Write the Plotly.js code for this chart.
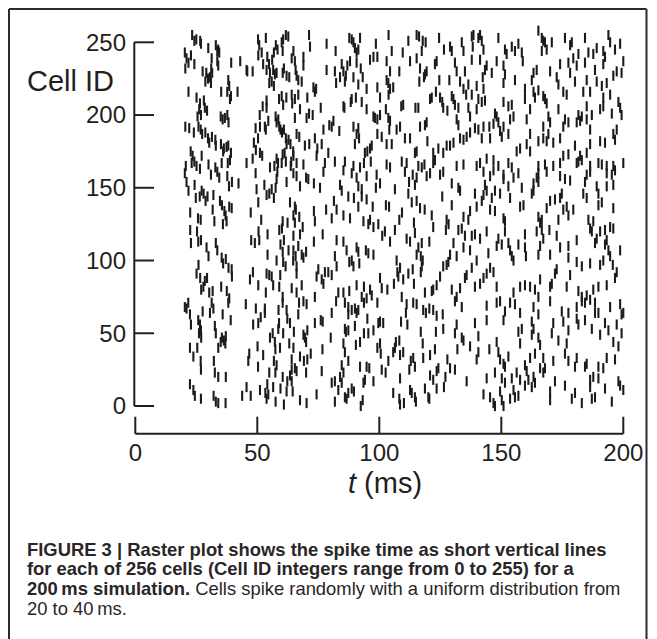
<!DOCTYPE html>
<html><head><meta charset="utf-8">
<script src="https://cdn.plot.ly/plotly-3.0.1.min.js"></script>
<style>html,body{margin:0;padding:0;background:#fff;}#chart{width:657px;height:639px;}</style>
</head><body><div id="chart"></div>
<script>
const xTicks = [0, 50, 100, 150, 200];
const yTicks = [0, 50, 100, 150, 200, 250];
const xTitle = '<i>t</i> (ms)';
const yTitle = 'Cell ID';
const captionLines = [
  '<b>FIGURE 3 | Raster plot shows the spike time as short vertical lines</b>',
  '<b>for each of 256 cells (Cell ID integers range from 0 to 255) for a</b>',
  '<b>200\u2009ms simulation.</b> Cells spike randomly with a uniform distribution from',
  '20 to 40\u2009ms.'
];

// [spike time (ms), cell ID]
const spikes0to67ms = [
[23.3,255],[24.2,251],[25.0,252],[26.6,251],[26.9,249],[20.3,243],[21.0,239],[21.8,236],[20.5,232],[22.8,241],[24.2,235],[29.9,246],[31.3,239],[33.0,248],[33.6,244],[34.0,245],[34.4,243],[31.1,232],[31.5,229],[30.6,226],[29.1,229],[27.6,230],[28.7,223],[29.8,225],[31.0,222],[33.6,237],[34.0,234],[21.8,216],[25.1,212],[26.5,208],[28.1,210],[28.5,205],[26.2,204],[26.9,200],[29.4,203],[25.5,199],[38.1,224],[38.5,220],[37.7,216],[39.2,213],[38.8,211],[35.2,216],[35.0,199],[35.8,197],[36.7,198],[37.7,200],[38.2,195],[41.9,216],[39.3,236],[43.0,237],[45.6,231],[48.1,230],[20.5,192],[22.1,191],[24.0,188],[25.9,192],[26.8,190],[27.4,187],[28.7,188],[29.8,184],[31.4,185],[30.3,181],[32.8,183],[33.0,179],[35.1,180],[36.3,177],[37.4,178],[38.1,179],[39.2,174],[36.0,175],[38.8,169],[35.4,167],[37.9,167],[22.7,175],[23.5,172],[27.2,172],[20.7,165],
[50.3,252],[50.8,248],[53.5,253],[57.6,248],[58.3,245],[60.0,250],[60.6,252],[61.7,255],[62.7,254],[64.1,239],[56.8,243],[56.1,238],[54.8,235],[54.1,240],[52.4,235],[51.8,243],[50.4,241],[53.8,231],[55.2,229],[56.5,231],[57.2,228],[57.9,229],[55.9,223],[54.9,222],[56.8,220],[60.9,232],[60.4,229],[62.0,227],[63.1,226],[65.7,231],[60.0,213],[58.9,211],[60.6,207],[61.9,212],[53.8,210],[52.2,206],[51.0,200],[54.5,196],[53.5,190],[53.1,192],[51.1,192],[49.3,191],[50.3,184],[48.6,181],[49.4,176],[51.1,174],[52.0,172],[53.8,205],[57.5,199],[58.6,197],[57.9,195],[59.0,192],[59.5,190],[60.1,188],[60.9,190],[61.7,184],[62.0,180],[62.8,183],[63.6,180],[64.7,175],[63.9,168],[61.2,174],[60.4,173],[57.9,170],[58.5,167],[57.0,165],[55.2,164],[48.1,170],[45.6,167],[45.9,230],[64.3,208],[60.4,244],
[20.3,160],[21.0,154],[21.8,148],[23.1,167],[24.2,168],[25.1,165],[26.5,163],[30.0,166],[31.0,159],[32.8,164],[33.6,161],[34.4,157],[37.7,158],[38.4,151],[39.6,154],[42.3,153],[24.3,152],[24.8,143],[26.4,144],[27.2,148],[28.0,146],[28.8,141],[29.6,144],[32.0,145],[31.7,135],[34.7,141],[35.5,138],[36.5,134],[37.0,131],[38.5,137],[39.5,136],[35.9,125],[37.4,127],[22.5,133],[25.7,129],[26.8,128],[32.4,127],[22.5,121],[22.8,112],[25.3,120],[25.8,113],[26.9,114],[29.2,109],[30.0,103],[33.0,112],[33.6,107],[35.4,102],[36.0,98],[37.1,101],[38.2,95],[39.5,94],[39.6,89],[25.9,97],[25.1,91],[26.6,88],[28.5,86],[29.4,88],[27.9,82],[27.0,80],[30.3,78],[31.7,79],[35.2,82],[37.5,79],[38.5,74],[32.0,67],
[47.3,133],[49.3,160],[49.7,149],[50.4,140],[51.6,128],[50.5,120],[47.5,114],[49.0,112],[50.8,114],[54.2,118],[52.9,152],[53.8,145],[54.9,146],[55.9,149],[56.8,143],[57.5,150],[58.2,161],[57.9,156],[60.0,167],[61.7,168],[62.0,154],[60.4,127],[60.1,122],[59.0,121],[60.9,114],[59.5,111],[60.4,106],[63.4,140],[65.8,135],[62.4,126],[66.8,110],[65.7,103],[62.8,107],[64.7,100],[54.2,104],[57.9,100],[60.6,99],[61.6,96],[59.4,90],[54.9,90],[53.8,91],[48.2,92],[47.0,87],[50.4,83],[53.5,78],[55.9,89],[56.5,83],[59.0,82],[60.4,75],[53.1,67],[66.1,167],
[20.3,68],[21.0,67],[21.7,71],[22.4,63],[22.8,56],[25.8,59],[26.5,56],[26.9,52],[26.1,50],[27.0,47],[27.6,65],[30.6,64],[31.3,71],[32.6,55],[33.0,50],[35.8,63],[35.5,47],[36.3,45],[37.1,48],[39.1,59],[38.1,71],[22.4,40],[23.8,34],[25.4,40],[26.8,31],[26.9,25],[32.2,31],[32.6,23],[34.0,40],[34.0,20],[35.0,44],[36.9,43],[37.1,20],[22.4,15],[23.8,11],[24.4,7],[26.9,5],[32.1,7],[33.0,3],[34.0,2],[37.0,2],
[45.3,70],[49.4,67],[50.4,57],[51.4,61],[53.1,64],[48.3,56],[50.1,41],[46.7,36],[46.3,31],[50.3,27],[52.4,35],[55.2,47],[56.3,50],[57.2,44],[58.6,53],[58.7,66],[58.9,57],[60.6,50],[60.4,71],[62.0,66],[63.4,57],[62.3,60],[57.4,39],[59.3,40],[63.1,43],[56.8,31],[57.9,28],[57.4,23],[64.1,17],[62.3,17],[60.4,20],[62.0,10],[59.5,12],[54.9,23],[54.1,15],[56.5,13],[54.5,8],[53.8,5],[53.3,9],[51.1,11],[47.3,7],[45.6,13],[43.8,7],[57.5,3],[60.9,1],[67.5,34]
];

const spikes63to133ms = [
[71.2,255],[71.6,247],[64.8,244],[65.4,237],[68.9,240],[68.9,234],[66.1,227],[66.8,224],[68.2,223],[64.1,214],[65.4,211],[66.8,214],[70.5,212],[73.0,219],[73.6,216],[67.5,204],[71.2,201],[72.7,200],[70.2,198],[65.4,198],[78.4,249],[82.1,244],[78.4,231],[81.8,230],[82.3,222],[84.6,235],[85.3,230],[86.3,227],[83.9,226],[85.9,223],[87.7,253],[88.7,252],[89.4,250],[90.0,246],[90.7,243],[92.1,253],[91.4,245],[88.0,237],[86.9,234],[90.7,236],[92.4,232],[93.2,226],[89.4,226],[91.4,221],[94.8,218],[96.2,238],[97.6,240],[98.6,249],[99.2,240],[103.0,237],[104.4,230],[105.1,244],[103.8,255],[108.2,230],[109.6,243],[111.9,251],[112.6,237],[115.3,255],[116.3,254],[117.8,251],[119.0,250],[117.4,244],[115.3,239],[116.7,232],[118.3,226],[118.7,228],[116.4,223],[119.4,230],[123.5,237],[122.8,235],[124.5,253],[126.5,245],[128.7,224],[124.6,224],[123.2,216],[121.5,212],[124.9,212],[125.8,209],[126.2,205],[127.9,203],[120.8,211],[116.0,205],[114.8,205],[109.8,207],[109.0,206],[103.0,224],[103.7,222],[104.4,218],[105.7,219],[103.8,214],[100.3,212],[99.2,219],[92.8,209],[90.4,212],[88.7,211],[88.3,209],[85.3,206],[85.7,205],[76.0,205],[74.1,218],[94.8,204],[97.6,199],[98.2,198],[99.2,197],[100.3,200],[102.7,204],[103.7,198],[104.4,196],[66.1,187],[67.2,185],[69.5,179],[71.3,180],[73.6,184],[74.6,177],[76.4,180],[77.1,190],[79.5,193],[81.2,196],[80.5,192],[83.6,189],[89.4,192],[91.4,191],[90.7,187],[91.7,184],[90.0,180],[94.1,174],[95.1,175],[96.2,177],[96.9,179],[99.2,187],[101.0,185],[103.0,180],[104.1,190],[105.1,180],[107.1,190],[108.5,192],[110.5,184],[112.6,184],[114.6,174],[115.3,175],[116.7,192],[118.7,193],[119.4,195],[119.7,182],[122.1,174],[122.8,169],[124.2,177],[126.2,174],[127.6,179],[64.8,172],[74.3,172],[79.1,174],[89.4,165],[116.0,165],[131.7,165],
[63.7,165],[64.8,160],[68.9,166],[70.0,157],[66.1,158],[67.5,151],[70.9,156],[73.2,153],[75.7,150],[77.1,161],[77.7,167],[81.8,168],[85.3,162],[83.9,152],[84.6,148],[85.9,168],[88.7,160],[90.7,157],[92.1,164],[92.8,149],[91.4,151],[93.7,167],[94.8,158],[96.5,168],[98.9,159],[100.3,153],[98.6,150],[103.0,166],[104.4,164],[109.2,168],[110.5,161],[111.2,167],[112.2,154],[113.7,159],[115.3,157],[114.6,152],[117.4,164],[118.5,166],[119.4,158],[120.8,160],[122.1,167],[124.9,159],[126.2,161],[125.8,144],[65.4,137],[64.8,131],[67.2,130],[68.6,123],[65.4,126],[64.8,117],[67.5,118],[73.2,134],[73.6,127],[73.2,113],[76.8,118],[78.2,135],[80.5,129],[82.5,135],[81.4,141],[85.3,131],[87.3,144],[88.0,129],[89.6,143],[91.4,137],[92.8,144],[94.8,142],[93.5,127],[95.5,125],[97.3,137],[96.2,128],[97.6,123],[99.6,125],[101.2,117],[102.7,138],[104.0,137],[102.3,120],[104.4,113],[106.4,121],[106.4,149],[108.2,128],[109.3,133],[111.2,115],[112.6,113],[111.9,146],[113.3,140],[114.2,126],[115.3,141],[114.6,119],[116.7,136],[118.6,135],[116.0,109],[117.4,112],[120.5,113],[122.1,123],[121.5,131],[127.6,128],[128.4,125],[127.3,121],[64.8,107],[66.1,96],[68.2,104],[68.9,102],[70.0,106],[75.0,94],[74.3,89],[76.4,87],[77.7,92],[81.8,103],[82.5,114],[85.3,113],[86.6,107],[87.7,99],[88.7,100],[89.4,96],[90.7,109],[91.4,106],[91.8,98],[94.5,107],[95.5,105],[97.6,104],[82.5,96],[80.5,90],[79.1,92],[66.1,91],[64.1,81],[68.2,83],[66.1,78],[73.6,75],[77.1,84],[83.2,78],[85.3,78],[87.7,79],[90.7,83],[92.8,75],[93.7,82],[94.8,74],[96.2,80],[96.9,76],[100.3,88],[101.0,81],[103.3,80],[107.1,100],[107.4,92],[108.5,95],[109.8,87],[107.8,89],[111.9,91],[113.7,94],[114.2,84],[117.0,92],[117.4,96],[117.8,100],[115.3,104],[117.0,103],[118.7,78],[121.5,79],[122.1,80],[123.5,83],[124.9,89],[126.2,96],[127.6,97],[128.3,99],[109.2,75],[111.2,70],[106.0,84],
[67.1,71],[68.9,72],[70.2,70],[66.8,63],[65.0,51],[68.9,49],[69.5,47],[70.0,44],[70.5,52],[71.9,36],[64.8,40],[64.1,32],[65.4,26],[64.1,25],[66.1,24],[64.5,10],[69.1,31],[70.5,32],[70.0,23],[76.4,24],[76.7,39],[73.6,57],[76.0,59],[76.8,58],[80.5,64],[80.1,47],[82.3,72],[85.9,71],[87.3,68],[87.3,63],[88.7,66],[90.0,67],[90.7,64],[91.4,66],[93.7,71],[95.1,60],[99.2,71],[99.6,57],[100.3,58],[101.6,57],[85.9,53],[86.3,51],[87.3,52],[90.0,55],[85.3,43],[85.9,37],[87.3,31],[90.4,42],[92.1,44],[93.7,50],[95.5,50],[97.6,52],[100.3,43],[99.2,40],[100.6,36],[103.7,31],[105.7,37],[106.8,44],[108.2,45],[108.9,58],[110.9,64],[111.5,56],[113.9,71],[115.3,70],[118.0,66],[119.1,64],[120.5,67],[122.1,66],[123.5,62],[126.0,63],[126.2,53],[123.2,51],[117.0,51],[117.8,43],[122.8,39],[120.8,35],[118.0,33],[113.9,33],[114.6,27],[112.9,31],[112.3,25],[109.8,37],[108.5,35],[106.4,40],[112.6,11],[113.3,9],[114.6,6],[115.0,3],[118.7,12],[120.1,6],[120.5,5],[120.8,21],[122.1,18],[123.5,24],[124.2,26],[123.5,12],[126.5,13],[127.1,20],[127.9,32],[132.0,39],[84.6,28],[85.3,23],[83.9,20],[84.6,16],[83.2,11],[81.8,17],[80.5,16],[81.8,3],[85.9,6],[86.6,5],[87.3,9],[88.7,12],[89.6,10],[92.4,0],[93.2,4],[93.5,16],[94.1,18],[94.8,27],[95.9,26],[92.1,27],[97.6,17],[101.0,25],[102.6,23],[105.7,9],[108.2,5],[108.5,19],[110.1,2],[108.5,1],[74.3,8],[70.2,2],[67.5,4],[63.4,21]
];

const spikes129to200ms = [
[129.0,247],[129.7,244],[131.0,236],[131.7,230],[133.8,250],[134.5,244],[135.1,230],[133.1,223],[134.5,218],[135.6,214],[136.5,221],[137.9,254],[138.6,255],[138.3,247],[137.9,238],[140.6,253],[141.3,255],[142.0,251],[142.7,245],[141.3,238],[143.3,231],[144.0,234],[146.1,229],[139.9,220],[142.4,226],[142.7,218],[137.9,214],[140.6,211],[129.7,213],[130.4,211],[131.0,207],[132.4,205],[136.5,205],[137.2,199],[131.7,197],[132.4,193],[139.9,204],[142.0,209],[143.3,210],[148.8,253],[151.5,245],[152.2,242],[154.3,247],[157.0,249],[155.6,244],[158.4,243],[158.8,237],[150.9,234],[151.5,228],[148.1,237],[150.9,222],[155.6,224],[159.7,218],[162.5,224],[163.2,229],[164.5,231],[165.2,258],[166.6,253],[167.2,251],[167.9,250],[166.6,244],[168.6,245],[170.7,250],[170.0,230],[172.7,226],[174.1,235],[173.4,221],[175.4,216],[176.8,214],[176.1,253],[178.2,248],[178.9,250],[177.5,236],[179.5,239],[181.6,242],[180.9,234],[184.3,253],[185.7,243],[184.3,236],[187.7,242],[189.1,246],[191.8,244],[192.5,240],[193.9,255],[194.6,250],[196.6,245],[198.7,249],[200.0,237],[197.3,230],[195.9,227],[199.3,229],[191.8,235],[188.4,231],[189.1,223],[191.2,220],[193.2,222],[185.0,224],[186.4,216],[183.6,216],[180.2,223],[178.2,229],[163.2,216],[163.8,212],[165.2,217],[167.2,213],[168.6,208],[167.9,211],[161.8,204],[159.7,211],[154.3,207],[152.9,206],[150.9,209],[147.4,201],[148.1,199],[148.8,195],[149.5,189],[150.9,192],[153.6,197],[155.0,199],[152.9,187],[150.2,185],[146.8,194],[145.1,192],[142.7,192],[142.0,184],[140.6,190],[139.2,191],[137.2,188],[135.8,185],[134.5,183],[133.1,184],[130.4,181],[129.0,179],[145.4,184],[160.4,197],[161.8,187],[160.4,180],[157.7,177],[156.3,175],[161.8,175],[167.2,184],[169.3,187],[170.0,195],[169.3,199],[167.2,192],[165.2,182],[168.6,182],[171.3,181],[174.1,184],[175.4,192],[177.5,195],[176.1,197],[180.9,195],[182.3,196],[185.0,197],[180.2,179],[177.5,173],[175.4,172],[182.3,172],[183.0,169],[185.0,174],[186.4,180],[186.4,190],[190.5,182],[192.5,181],[195.9,187],[196.6,183],[197.3,190],[199.3,200],[198.0,209],[194.6,214],[191.8,212],[190.5,204],[191.8,206],[195.3,201],[198.7,205],[187.1,200],[185.0,206],[181.6,200],[183.0,199],[173.4,204],[144.0,170],[146.8,169],[165.2,165],[186.4,165],[193.2,165],[195.9,165],[200.0,167],
[134.5,166],[139.9,165],[141.3,167],[142.7,161],[145.4,158],[146.8,162],[148.8,165],[150.9,159],[152.9,167],[154.3,164],[155.0,157],[157.0,160],[158.4,150],[163.2,153],[164.5,157],[165.2,160],[167.9,166],[168.6,161],[171.3,165],[174.1,158],[176.1,156],[178.2,155],[174.1,167],[180.9,167],[181.6,168],[185.0,159],[184.3,154],[186.4,161],[189.8,167],[191.2,166],[193.2,160],[195.3,159],[196.6,162],[195.9,152],[193.2,151],[189.1,151],[189.8,146],[183.6,146],[185.0,143],[189.8,138],[191.2,140],[195.9,136],[129.7,153],[132.4,150],[133.1,148],[129.7,138],[134.5,130],[136.5,128],[137.2,134],[139.2,146],[139.9,137],[142.0,141],[143.3,152],[142.7,145],[144.0,148],[147.4,148],[146.1,143],[145.4,135],[147.4,134],[149.5,146],[150.9,156],[152.9,151],[153.6,143],[157.7,137],[159.1,138],[162.5,146],[163.2,148],[165.2,154],[170.0,141],[172.0,142],[174.1,143],[174.8,146],[176.8,137],[177.5,131],[175.4,135],[173.4,128],[179.5,135],[168.6,136],[165.2,130],[166.6,128],[165.9,126],[150.9,129],[151.5,127],[151.5,120],[148.8,115],[148.1,110],[150.2,111],[152.9,112],[153.6,107],[154.3,103],[155.0,100],[157.0,111],[159.7,118],[159.7,109],[160.1,103],[164.5,120],[166.6,121],[167.2,115],[165.9,110],[165.2,104],[169.7,121],[170.0,104],[172.7,117],[174.1,109],[177.5,102],[177.5,110],[180.9,114],[185.7,128],[187.7,127],[186.4,122],[187.1,120],[189.1,115],[188.4,112],[190.5,120],[192.5,121],[194.6,123],[195.9,122],[193.2,114],[192.5,111],[193.9,107],[194.6,103],[191.8,100],[195.7,97],[197.3,92],[196.6,88],[198.7,107],[190.5,97],[186.4,98],[183.0,96],[180.9,99],[178.2,90],[176.8,82],[172.7,94],[172.0,91],[170.7,84],[170.0,82],[165.9,87],[165.2,75],[163.8,80],[161.8,82],[159.7,83],[157.7,82],[155.0,78],[148.1,82],[146.8,92],[145.4,95],[144.0,91],[142.7,88],[141.3,84],[139.2,82],[137.9,95],[135.8,90],[135.1,88],[133.1,81],[131.7,75],[129.7,80],[130.4,112],[132.4,121],[133.8,122],[135.1,117],[137.9,117],[139.2,118],[141.3,115],[144.0,120],[134.5,109],[137.2,107],[139.9,100],[144.7,105],[131.7,103],[129.0,104],[181.6,79],[183.0,75],[185.0,76],[186.4,73],[187.7,80],[189.8,82],[193.2,83],
[131.0,72],[133.8,68],[144.0,69],[148.1,71],[149.5,72],[151.5,65],[153.6,71],[155.6,70],[157.7,64],[163.2,68],[165.2,63],[170.0,72],[174.8,65],[177.5,64],[180.9,68],[183.0,72],[184.3,71],[188.4,71],[189.8,64],[194.6,68],[198.7,70],[200.0,64],[139.2,57],[131.7,56],[131.0,50],[133.8,47],[134.5,45],[137.2,41],[140.6,48],[140.6,37],[139.9,32],[144.0,59],[145.1,39],[148.1,44],[148.8,37],[150.9,59],[150.9,29],[151.5,27],[152.9,34],[157.0,51],[157.7,43],[158.4,53],[162.5,58],[163.2,53],[162.5,49],[165.2,47],[161.8,33],[163.8,36],[165.9,42],[167.2,33],[167.9,26],[170.7,50],[171.3,57],[173.4,45],[176.8,43],[176.1,36],[175.4,58],[177.5,52],[180.9,60],[181.6,56],[184.3,59],[187.1,53],[188.4,64],[190.5,49],[192.5,57],[193.9,52],[195.9,44],[193.2,33],[197.3,56],[199.3,50],[199.3,63],[198.0,41],[196.6,32],[191.8,26],[189.8,27],[187.7,20],[186.4,18],[185.0,29],[184.3,27],[180.9,33],[180.2,27],[177.5,31],[171.3,31],[165.9,26],[163.2,20],[161.1,18],[159.7,28],[160.4,24],[156.3,23],[157.7,18],[154.3,19],[150.2,19],[151.5,16],[149.5,10],[150.2,4],[146.8,2],[145.4,6],[142.7,8],[147.4,0],[150.9,0],[153.6,5],[155.0,11],[155.6,6],[157.0,7],[159.7,14],[162.5,13],[163.8,16],[170.0,4],[170.0,10],[172.0,17],[176.1,14],[178.9,5],[180.2,9],[183.0,2],[186.4,13],[187.1,5],[188.4,6],[189.8,19],[192.5,12],[195.3,3],[198.0,17],[198.7,14],[200.0,11],[129.0,26],[131.0,25],[135.8,17],[144.0,19],[147.4,23],[149.5,32],[167.2,23]
];

const allSpikes = spikes0to67ms.concat(spikes63to133ms, spikes129to200ms);
const spikeTimes = allSpikes.map(s => s[0]);
const cellIds = allSpikes.map(s => s[1]);

const ink = '#231f20';
const fontFam = '"Liberation Sans", Arial, Helvetica, sans-serif';

// axis geometry (data units) for the detached matplotlib-style spines
const yAxisX = -0.41, yTickEnd = 7.66;
const xAxisY = -19.06, xTickEnd = -7.36;

const shapes = [];
shapes.push({type:'line', xref:'x', yref:'y', x0:yAxisX, x1:yAxisX, y0:yTicks[0], y1:yTicks[yTicks.length-1], line:{color:ink, width:2}});
yTicks.forEach(v => shapes.push({type:'line', xref:'x', yref:'y', x0:yAxisX, x1:yTickEnd, y0:v, y1:v, line:{color:ink, width:2}}));
shapes.push({type:'line', xref:'x', yref:'y', x0:xTicks[0], x1:xTicks[xTicks.length-1], y0:xAxisY, y1:xAxisY, line:{color:ink, width:2}});
xTicks.forEach(v => shapes.push({type:'line', xref:'x', yref:'y', x0:v, x1:v, y0:xAxisY, y1:xTickEnd, line:{color:ink, width:2}}));

// plot area: px 130..630 horizontally, px 25..436 vertically (height 411)
const PH = 411;
const py = px => (436 - px) / PH;       // page pixel row -> paper y
const pxX = px => (px - 130) / 500;     // page pixel column -> paper x

// figure frame
const fl = pxX(9), fr = pxX(646.5), ft = py(9), fb = py(645);
shapes.push({type:'line', xref:'paper', yref:'paper', x0:fl, x1:fl, y0:fb, y1:ft, line:{color:'#2b2b2b', width:2}});
shapes.push({type:'line', xref:'paper', yref:'paper', x0:fl, x1:fr, y0:ft, y1:ft, line:{color:'#2b2b2b', width:2}});
shapes.push({type:'line', xref:'paper', yref:'paper', x0:fr, x1:fr, y0:fb, y1:ft, line:{color:'#2b2b2b', width:2}});

const capRows = [549, 568.7, 588.4, 608];
const annotations = [
  {xref:'paper', yref:'paper', x:pxX(116), y:py(81.2), xanchor:'right', yanchor:'middle', text:yTitle, showarrow:false, font:{family:fontFam, size:29, color:ink}},
  {xref:'paper', yref:'paper', x:pxX(385), y:py(483), xanchor:'center', yanchor:'middle', text:xTitle, showarrow:false, font:{family:fontFam, size:29, color:ink}}
];
captionLines.forEach((t, i) => annotations.push({xref:'paper', yref:'paper', x:pxX(24.5), y:py(capRows[i]), xanchor:'left', yanchor:'middle', text:t, showarrow:false, align:'left', font:{family:fontFam, size:18.4, color:'#2a2627'}}));

const trace = {
  type:'scatter', mode:'markers', x:spikeTimes, y:cellIds, hoverinfo:'skip',
  marker:{symbol:'line-ns', size:7.2, color:'#1c1a1b', line:{width:2.1, color:'#1c1a1b'}}
};

const axisCommon = {showgrid:false, zeroline:false, showline:false, ticks:'', fixedrange:true,
  tickfont:{family:fontFam, size:24, color:ink}};

const layout = {
  width:657, height:639, autosize:false,
  margin:{l:130, r:27, t:25, b:203, pad:0},
  paper_bgcolor:'#fff', plot_bgcolor:'#fff', showlegend:false,
  xaxis:Object.assign({range:[-2.172, 202.746], tickmode:'array', tickvals:xTicks, ticktext:xTicks.map(String)}, axisCommon),
  yaxis:Object.assign({range:[-20.62, 261.89], tickmode:'array', tickvals:yTicks, ticktext:yTicks.map(String), ticklabelstandoff:3}, axisCommon),
  shapes:shapes, annotations:annotations
};

Plotly.newPlot('chart', [trace], layout, {staticPlot:true, displayModeBar:false});
</script></body></html>
